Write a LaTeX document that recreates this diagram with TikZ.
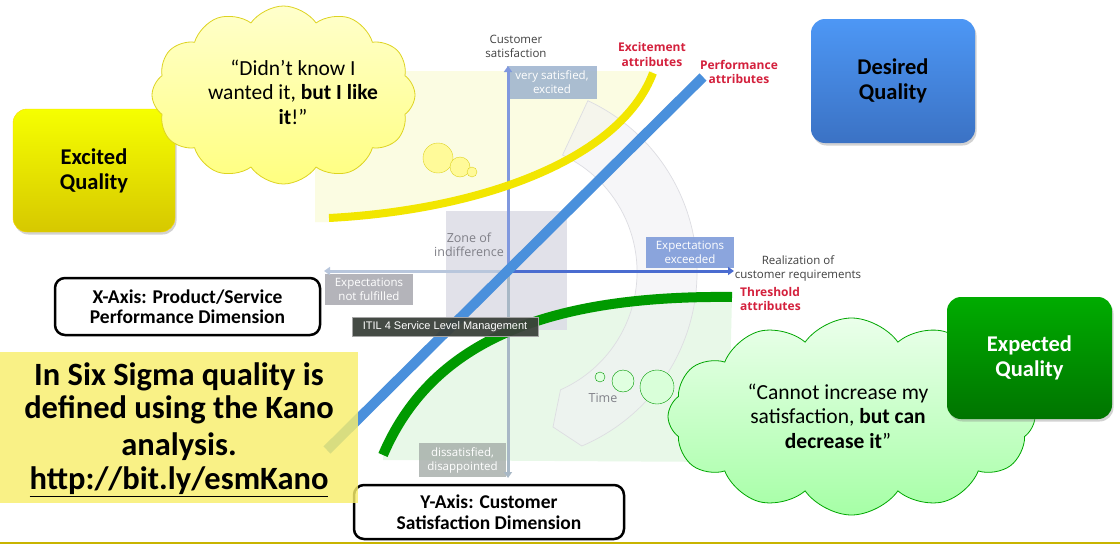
\documentclass[tikz,border=0pt]{standalone}
\usepackage{fontspec}
\setmainfont{Carlito}
\newfontfamily\osans{Open Sans}
\newfontfamily\helv{Liberation Sans}
\usetikzlibrary{shapes.symbols,shadows,arrows.meta}
\definecolor{lightyel}{HTML}{FBFCE2}
\definecolor{curveyel}{HTML}{F2E600}
\definecolor{lineblue}{HTML}{4A90DC}
\definecolor{curvegreen}{HTML}{009A00}
\definecolor{lightgreen}{HTML}{E8F8E8}
\definecolor{ringfill}{HTML}{F1F1F4}
\definecolor{ringdraw}{HTML}{DDDDE2}
\definecolor{zonefill}{HTML}{DCDCE6}
\definecolor{labgray}{HTML}{404040}
\definecolor{zonegray}{HTML}{808088}
\definecolor{attrred}{HTML}{D4213D}
\definecolor{axblue}{HTML}{4A6CD0}
\definecolor{axlight}{HTML}{B8C6DC}
\definecolor{axdown}{HTML}{A8B8C6}
\definecolor{vsfill}{HTML}{9CB2CE}
\definecolor{eefill}{HTML}{7F9CDA}
\definecolor{enffill}{HTML}{A8A8AE}
\definecolor{dsfill}{HTML}{A4ACA8}
\definecolor{tipfill}{HTML}{3C423C}
\definecolor{sixfill}{HTML}{F8EE6C}
\definecolor{bottomline}{HTML}{C8B400}
\definecolor{desTop}{HTML}{4D97F5}
\definecolor{desBot}{HTML}{3B72C4}
\definecolor{excTop}{HTML}{F6FF00}
\definecolor{excBot}{HTML}{D6C800}
\definecolor{expTop}{HTML}{00AC00}
\definecolor{expBot}{HTML}{007400}
\tikzset{
  qbox/.style={rounded corners=14pt, align=center, inner sep=0pt,
    font=\fontsize{22.5}{25}\selectfont\bfseries,
    drop shadow={opacity=0.35, shadow xshift=1.5pt, shadow yshift=-2.5pt}},
  axbox/.style={draw=black, line width=2.5pt, rounded corners=10pt, fill=white,
    align=center, inner sep=0pt, font=\fontsize{19.5}{20.5}\selectfont\bfseries},
  chbox/.style={inner sep=0pt, align=center, text=white,
    font=\osans\fontsize{11.5}{14}\selectfont},
  chlabel/.style={inner sep=0pt, align=center, text=labgray,
    font=\osans\fontsize{11.5}{14}\selectfont},
  redlab/.style={inner sep=0pt, align=center, text=attrred,
    font=\osans\bfseries\fontsize{12}{14.5}\selectfont},
  cloudshape/.style={cloud, cloud puffs=12, cloud puff arc=110, cloud ignores aspect, inner sep=0pt},
  cloudtext/.style={align=center, inner sep=0pt, font=\fontsize{21.5}{24.5}\selectfont},
  bubble/.style={circle, inner sep=0pt},
  axtip/.style={-{Triangle[width=8pt,length=6pt]}},
}
\begin{document}
\begin{tikzpicture}[x=1pt,y=1pt,yscale=-1]
\useasboundingbox (0,0) rectangle (1120,546);
\fill[white] (0,0) rectangle (1120,546);
\draw[bottomline, line width=2pt] (0,543) -- (1120,543);

% background regions
\fill[lightyel] (315,71) -- (652,71) -- (653,73) .. controls (620,160) and (480,210) .. (329,218) -- (329,222) -- (315,222) -- cycle;
\fill[lightgreen] (383,455) .. controls (430,345) and (540,295) .. (732,297) -- (728,462) -- (383,460) -- cycle;
\filldraw[fill=ringfill, draw=ringdraw, fill opacity=0.6, line width=0.7pt]
  (508,272) ++(-65:189) arc[start angle=-65, end angle=67, radius=189]
  -- (553,427) -- (560.5,389.8) arc[start angle=66, end angle=-65, radius=129] -- cycle;
\fill[zonefill, opacity=0.85] (446,211) rectangle (567,330);

% axis coordinates
\coordinate (O) at (508,271);
\coordinate (ytop) at (508,66);
\coordinate (ybot) at (508,478);
\coordinate (xright) at (734,271);
\coordinate (xleft) at (324,271);

% chart boxes
\node[chbox, fill=vsfill, fill opacity=0.85, text opacity=1, minimum width=90pt, minimum height=33pt] (vs) at (552,82.5) {very satisfied,\\excited};
\node[chbox, fill=eefill, fill opacity=0.9, text opacity=1, minimum width=88pt, minimum height=31pt] (ee) at (690,252.5) {Expectations\\exceeded};
\node[chbox, fill=enffill, fill opacity=0.85, text opacity=1, minimum width=88pt, minimum height=31pt] (enf) at (369,289.5) {Expectations\\not fulfilled};
\node[chbox, fill=dsfill, fill opacity=0.8, text opacity=1, minimum width=87pt, minimum height=34pt] (ds) at (462.5,460) {dissatisfied,\\disappointed};

% axes
\draw[axdown, line width=3pt, axtip] (O) -- (ybot);
\draw[axlight, line width=3pt, axtip] (O) -- (xleft);
\draw[axblue!70, line width=3pt, axtip] (O) -- (ytop);
\draw[axblue, line width=3pt, axtip] (O) -- (xright);

% labels
\node[chlabel] (cs) at (516,46) {Customer\\satisfaction};
\node[chlabel] (real) at (798,268) {Realization of\\customer requirements};
\node[chlabel, text=zonegray, font=\osans\fontsize{12.5}{14}\selectfont] (zone) at (469,245) {Zone of\\indifference};
\node[chlabel, text=zonegray, font=\osans\fontsize{12.5}{14}\selectfont] (time) at (603,398) {Time};
\node[redlab] (exatt) at (652,54.5) {Excitement\\attributes};
\node[redlab] (peratt) at (739,72) {Performance\\attributes};
\node[redlab, align=left, anchor=west] (thatt) at (740,299) {Threshold\\attributes};

% curves
\coordinate (yc1) at (329,218);
\coordinate (yc2) at (653,73);
\draw[curveyel, line width=8pt] (yc1) .. controls (480,210) and (620,160) .. (yc2);
\coordinate (bl1) at (327,450);
\coordinate (bl2) at (703,77);
\draw[lineblue, line width=10pt] (bl1) -- (bl2);
\coordinate (gc1) at (383,455);
\coordinate (gc2) at (732,297);
\draw[curvegreen, line width=10pt] (gc1) .. controls (430,345) and (540,295) .. (gc2);

% tooltip
\node[fill=tipfill, fill opacity=0.95, text opacity=1, draw=gray!70, line width=0.6pt, text=white, inner sep=0pt,
  minimum width=186pt, minimum height=19pt, font=\helv\fontsize{11}{13}\selectfont] (tip) at (445,326.5) {ITIL 4 Service Level Management};

% quality boxes
\node[qbox, top color=excTop, bottom color=excBot, draw=yellow!75!orange, minimum width=162pt, minimum height=123pt] (excq) at (94,170.5) {Excited\\Quality};
\node[qbox, top color=desTop, bottom color=desBot, draw=none, minimum width=164pt, minimum height=124pt] (desq) at (893,81) {Desired\\Quality};

% yellow cloud
\node[cloudshape, top color=yellow!20, bottom color=yellow!50, draw=yellow!85!black, line width=0.8pt, minimum width=263pt, minimum height=178pt] (ycloud) at (283.5,95) {};
\node[bubble, fill=yellow!40, draw=yellow!85!black, minimum size=30pt] (yb1) at (438,158) {};
\node[bubble, fill=yellow!40, draw=yellow!85!black, minimum size=20pt] (yb2) at (460,167) {};
\node[bubble, fill=yellow!40, draw=yellow!85!black, minimum size=10pt] (yb3) at (472,172) {};
\node[cloudtext] (yctext) at (293,92) {“Didn’t know I\\wanted it, \textbf{but I like}\\\textbf{it}!”};

% green cloud
\node[bubble, fill=green!12, draw=green!60!black, minimum size=10pt] (gb1) at (600,377) {};
\node[bubble, fill=green!12, draw=green!60!black, minimum size=22pt] (gb2) at (623,381) {};
\node[bubble, fill=green!15, draw=green!60!black, minimum size=34pt] (gb3) at (657,387) {};
\node[cloudshape, top color=green!8, bottom color=green!35, draw=green!65!black, line width=0.8pt, minimum width=367pt, minimum height=197pt] (gcloud) at (851.5,416.5) {};
\node[qbox, top color=expTop, bottom color=expBot, draw=none, text=white, minimum width=165pt, minimum height=122pt] (expq) at (1029.5,358) {Expected\\Quality};
\node[cloudtext] (gctext) at (838,416) {“Cannot increase my\\satisfaction, \textbf{but can}\\\textbf{decrease it}”};

% axis boxes
\node[axbox, minimum width=265pt, minimum height=57pt] (xbox) at (187.5,306.5) {X-Axis: Product/Service\\Performance Dimension};
\node[axbox, minimum width=270pt, minimum height=54pt] (ybox) at (489,512) {Y-Axis: Customer\\Satisfaction Dimension};

% six sigma box
\node[fill=sixfill, fill opacity=0.82, text opacity=1, inner sep=0pt, minimum width=358pt, minimum height=151pt] (sixbox) at (179,427.5) {};
\node[align=center, inner sep=0pt, font=\fontsize{32.5}{33.5}\selectfont\bfseries] (sixtext) at (179,429.5) {In Six Sigma quality is\\defined using the Kano\\[3.5pt]analysis.\\\underline{http://bit.ly/esmKano}};
\end{tikzpicture}
\end{document}
